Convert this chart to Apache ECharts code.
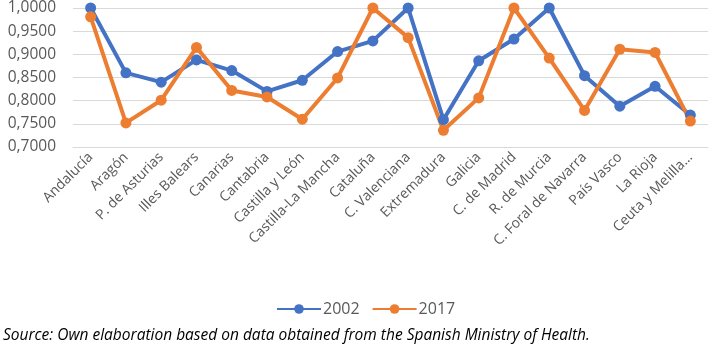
<!DOCTYPE html>
<html><head><meta charset="utf-8">
<script src="https://cdn.jsdelivr.net/npm/echarts@6/dist/echarts.min.js"></script>
<style>html,body{margin:0;padding:0;background:#fff}#c{width:710px;height:349px}</style>
</head><body><div id="c"></div>
<script>
const categories = ["Andalucía","Aragón","P. de Asturias","Illes Balears","Canarias","Cantabria","Castilla y León","Castilla-La Mancha","Cataluña","C. Valenciana","Extremadura","Galicia","C. de Madrid","R. de Murcia","C. Foral de Navarra","País Vasco","La Rioja","Ceuta y Melilla..."];
const values2002 = [1.000,0.860,0.840,0.888,0.865,0.820,0.844,0.906,0.929,1.000,0.759,0.886,0.933,1.000,0.854,0.788,0.831,0.769];
const values2017 = [0.981,0.752,0.801,0.915,0.822,0.808,0.760,0.849,1.000,0.936,0.736,0.806,1.000,0.892,0.779,0.911,0.904,0.756];
const seriesNames = ["2002","2017"];
const sourceText = "Source: Own elaboration based on data obtained from the Spanish Ministry of Health.";

const chart = echarts.init(document.getElementById('c'));
const font = "'Open Sans', 'Liberation Sans', sans-serif";
chart.setOption({
  animation:false,
  grid:{left:73,right:2,top:7,bottom:202,containLabel:false},
  legend:{data:seriesNames,bottom:27,left:271,itemWidth:44,itemHeight:12,itemGap:12,
    textStyle:{color:'#595959',fontSize:16,fontFamily:font,padding:[0,0,0,-3]}},
  graphic:[{type:'text',left:3,top:328,style:{text:sourceText,fill:'#000',font:"italic 15.5px 'Open Sans', sans-serif"}}],
  xAxis:{type:'category',data:categories,boundaryGap:true,
    axisLine:{lineStyle:{color:'#d9d9d9'}},axisTick:{show:false},
    axisLabel:{rotate:45,interval:0,color:'#595959',fontSize:14,fontFamily:font,margin:8}},
  yAxis:{type:'value',min:0.7,max:1.0,interval:0.05,
    axisLine:{show:false},axisTick:{show:false},
    splitLine:{lineStyle:{color:'#d9d9d9',width:1}},
    axisLabel:{color:'#595959',fontSize:15.5,fontFamily:font,margin:17,
      formatter:v=>v.toFixed(4).replace('.',',')}},
  series:[
    {name:seriesNames[0],type:'line',data:values2002,symbol:'circle',symbolSize:11,
      lineStyle:{color:'#4472C4',width:4},itemStyle:{color:'#4472C4'}},
    {name:seriesNames[1],type:'line',data:values2017,symbol:'circle',symbolSize:11,
      lineStyle:{color:'#ED7D31',width:4},itemStyle:{color:'#ED7D31'}}
  ]
});
</script></body></html>
